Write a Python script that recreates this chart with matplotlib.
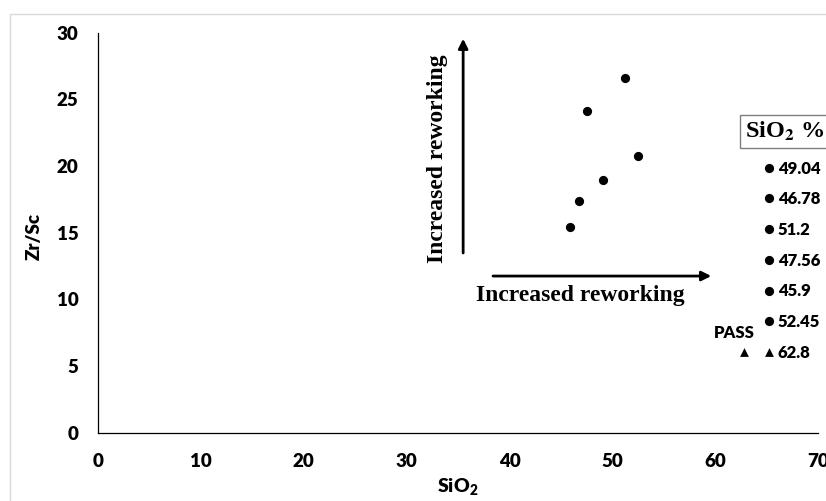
import matplotlib
matplotlib.use('Agg')
import matplotlib.pyplot as plt
from matplotlib.patches import Rectangle

# Zr/Sc against SiO2 for the samples, plus the PASS reference point
sio2 = [49.04, 46.78, 51.2, 47.56, 45.9, 52.45]
zr_sc = [18.95, 17.4, 26.6, 24.1, 15.4, 20.75]
pass_sio2 = 62.8
pass_zr_sc = 6.05

x_ticks = [0, 10, 20, 30, 40, 50, 60, 70]
y_ticks = [0, 5, 10, 15, 20, 25, 30]

sans = 'Lato'
weight = 'heavy'
plt.rcParams['font.family'] = [sans, 'DejaVu Sans']
plt.rcParams['font.weight'] = weight
plt.rcParams['axes.labelweight'] = weight
plt.rcParams['mathtext.fontset'] = 'custom'
plt.rcParams['mathtext.rm'] = sans + ':heavy'
plt.rcParams['mathtext.bf'] = sans + ':heavy'

W, H = 826, 501
fig = plt.figure(figsize=(W / 100, H / 100), dpi=100)
ax = fig.add_axes([97.7 / W, 68.5 / H, (818.3 - 97.7) / W, (432.5 - 32.7) / H])

# thin chart-area border
fig.patches.append(Rectangle((10 / W, -0.1), 1.0, 1.1 - 14 / H, transform=fig.transFigure,
                             fill=False, ec='#d9d9d9', lw=1))

for x, y in zip(sio2, zr_sc):
    ax.scatter(x, y, s=44, c='black', marker='o', linewidths=0, label=f'{x:g}', zorder=3)
ax.scatter(pass_sio2, pass_zr_sc, s=40, c='black', marker='^', linewidths=0,
           label=f'{pass_sio2:g}', zorder=3)
ax.annotate('PASS', (pass_sio2, pass_zr_sc), xytext=(-7, 13.5), textcoords='offset points',
            ha='center', va='center', fontsize=12, fontweight=weight)

ax.set_xlim(0, 70)
ax.set_ylim(0, 30)
ax.set_xticks(x_ticks)
ax.set_yticks(y_ticks)
ax.tick_params(length=0, labelsize=13.5)
ax.tick_params(axis='x', pad=15)
ax.tick_params(axis='y', pad=14)
for lab in ax.get_xticklabels() + ax.get_yticklabels():
    lab.set_fontweight(weight)
for s in ['top', 'right']:
    ax.spines[s].set_visible(False)
for s in ['left', 'bottom']:
    ax.spines[s].set_linewidth(0.9)

ax.set_ylabel('Zr/Sc', fontsize=13.5, fontweight=weight)
ax.yaxis.set_label_coords((43 - 97.7) / 720.6, 0.49)
ax.set_xlabel('SiO$_\\mathbf{2}$', fontsize=14, fontweight=weight)
ax.xaxis.set_label_coords(0.5, (432.5 - 477) / 399.8)

# reworking arrows and captions
serif = 'Liberation Serif'
ax.annotate('', xy=(35.5, 29.55), xytext=(35.5, 13.47),
            arrowprops=dict(arrowstyle='-|>', color='black', lw=2, mutation_scale=14,
                            shrinkA=0, shrinkB=0))
ax.annotate('', xy=(59.6, 11.74), xytext=(38.4, 11.74),
            arrowprops=dict(arrowstyle='-|>', color='black', lw=2, mutation_scale=14,
                            shrinkA=0, shrinkB=0))
ax.text(33.5, 20.52, 'Increased reworking', rotation=90, rotation_mode='anchor',
        ha='center', va='baseline', fontsize=17, fontfamily=serif, fontweight='bold')
ax.text(46.85, 9.89, 'Increased reworking', ha='center', va='baseline',
        fontsize=17, fontfamily=serif, fontweight='bold')

leg = ax.legend(loc='upper left', bbox_to_anchor=(764.5 / W, 1 - 160.5 / H),
                bbox_transform=fig.transFigure, frameon=False, borderpad=0,
                borderaxespad=0, handlelength=0.5, handletextpad=0.3, labelspacing=0.885,
                markerscale=1.0, scatterpoints=1, scatteryoffsets=[0.5],
                prop={'weight': weight, 'size': 12})

fig.text(744.7 / W, 1 - 131.5 / H, 'SiO$_\\mathbf{2}$ %', fontfamily=serif, fontweight='bold',
         fontsize=17.5, math_fontfamily='stix', ha='left', va='center',
         bbox=dict(boxstyle='square,pad=0.2', fc='white', ec='#7f7f7f', lw=1))

fig.savefig('out.png', dpi=100)
